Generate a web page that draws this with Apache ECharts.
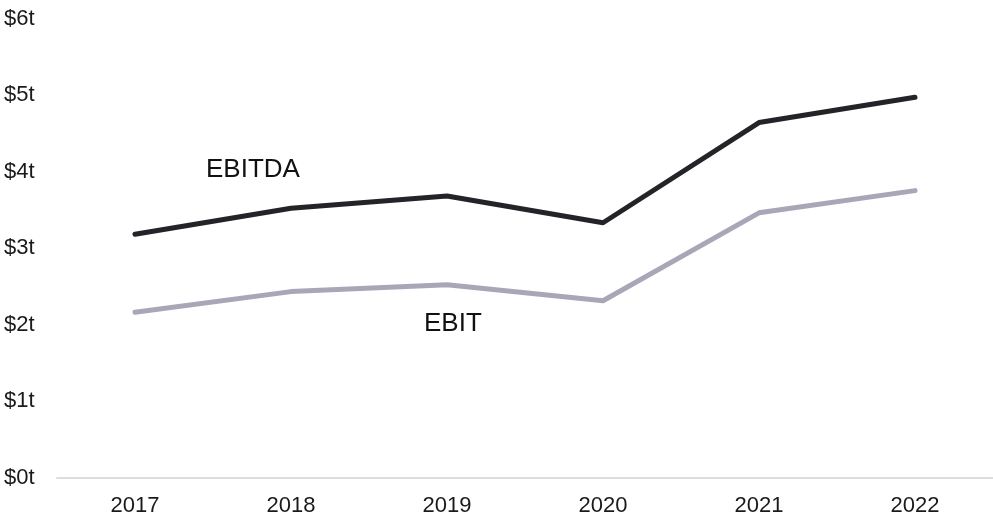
<!DOCTYPE html>
<html>
<head>
<meta charset="utf-8">
<script src="https://cdn.jsdelivr.net/npm/echarts@6/dist/echarts.min.js"></script>
<style>
  html, body { margin: 0; padding: 0; background: #ffffff; }
  #chart { width: 993px; height: 519px; }
</style>
</head>
<body>
<div id="chart"></div>
<script>
// Yearly earnings, in trillions of dollars
const years = ['2017', '2018', '2019', '2020', '2021', '2022'];
const ebitda = [3.18, 3.52, 3.68, 3.33, 4.64, 4.97];
const ebit = [2.16, 2.43, 2.52, 2.31, 3.46, 3.75];
const yTicks = [0, 1, 2, 3, 4, 5, 6];

const FONT = '"Liberation Sans", Arial, sans-serif';

const chart = echarts.init(document.getElementById('chart'), null, { renderer: 'canvas' });

chart.setOption({
  animation: false,
  backgroundColor: '#ffffff',
  grid: { left: 57, right: 0, top: 18.5, bottom: 41.5, containLabel: false },
  xAxis: {
    type: 'category',
    data: years,
    boundaryGap: true,
    axisLine: { show: true, lineStyle: { color: '#dcdce2', width: 2 } },
    axisTick: { show: false },
    axisLabel: { color: '#1a1a1a', fontSize: 22, fontFamily: FONT, margin: 17 },
    splitLine: { show: false }
  },
  yAxis: {
    type: 'value',
    min: yTicks[0],
    max: yTicks[yTicks.length - 1],
    interval: 1,
    axisLine: { show: false },
    axisTick: { show: false },
    splitLine: { show: false },
    axisLabel: {
      color: '#1a1a1a',
      fontSize: 22,
      fontFamily: FONT,
      align: 'left',
      margin: 53,
      formatter: v => '$' + v + 't'
    }
  },
  series: [
    {
      name: 'EBITDA',
      type: 'line',
      data: ebitda,
      showSymbol: false,
      symbol: 'none',
      lineStyle: { color: '#232328', width: 5, cap: 'round', join: 'round' }
    },
    {
      name: 'EBIT',
      type: 'line',
      data: ebit,
      showSymbol: false,
      symbol: 'none',
      lineStyle: { color: '#a9a6b8', width: 5, cap: 'round', join: 'round' }
    }
  ],
  graphic: [
    {
      type: 'text',
      left: 206,
      top: 157,
      style: { text: 'EBITDA', fill: '#111111', font: '26px ' + FONT }
    },
    {
      type: 'text',
      left: 424,
      top: 311,
      style: { text: 'EBIT', fill: '#111111', font: '26px ' + FONT }
    }
  ]
});
</script>
</body>
</html>
